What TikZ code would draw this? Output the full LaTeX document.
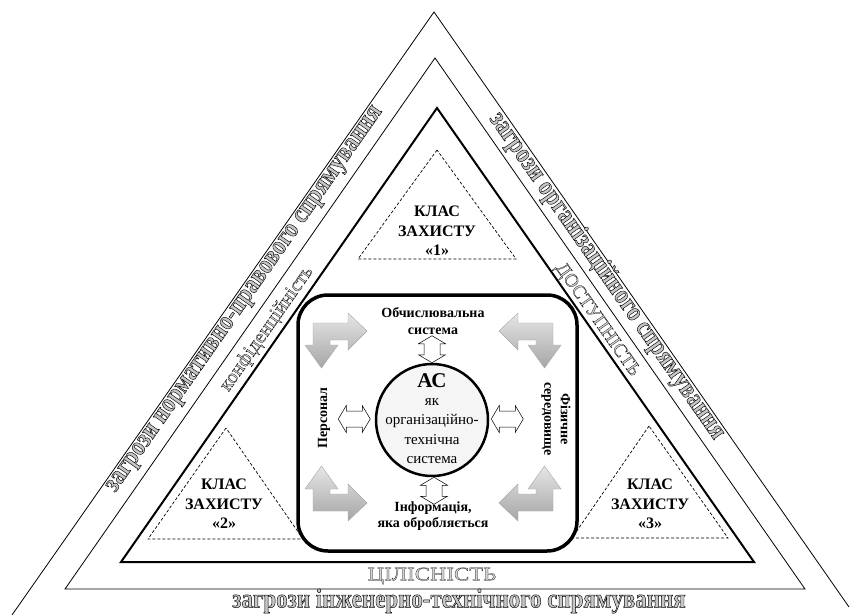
\documentclass[tikz,border=0pt]{standalone}
\usepackage{fontspec}
\setmainfont{Liberation Serif}
\newfontfamily\threatfont[FakeStretch=0.85,FakeBold=1.6]{Liberation Serif}
\newfontfamily\propfont[FakeBold=1.2]{Liberation Serif}
\newfontfamily\wideprop[FakeStretch=1.2,FakeBold=1.2]{Liberation Serif}
\newcommand\blackrim{\special{pdf:literal direct 0 G}}
\usetikzlibrary{calc}

\tikzset{turnarrow/.pic={
  \path[turn] (-120,-94) -- (-85,-94) -- (-85,-104) -- (-66,-86) -- (-85,-67)
    -- (-85,-77) -- (-103,-77) -- (-103,-72) -- (-95,-72) -- (-111.5,-49)
    -- (-128,-72) -- (-120,-72) -- cycle;
},
link/.pic={
  \path[linkbox] (0,-#1) -- (13.5,{-#1+8}) -- (8,{-#1+8}) -- (8,{#1-8}) -- (13.5,{#1-8})
    -- (0,#1) -- (-13.5,{#1-8}) -- (-8,{#1-8}) -- (-8,{-#1+8}) -- (-13.5,{-#1+8}) -- cycle;
}}

\begin{document}
\begin{tikzpicture}%
[x=1pt, y=-1pt,
band/.style={line width=0.8pt},
thickband/.style={line width=2pt},
classtri/.style={line width=0.7pt, dash pattern=on 3pt off 2pt},
classtxt/.style={font=\fontsize{16}{19.5}\selectfont\bfseries, align=center, inner sep=0pt},
threat/.style={font=\fontsize{27}{27}\threatfont\bfseries, text=gray!45, inner sep=0pt},
prop/.style={font=\fontsize{20}{20}\propfont, text=gray!35, inner sep=0pt},
part/.style={font=\fontsize{14}{16.5}\selectfont\bfseries, align=center, inner sep=0pt},
linkbox/.style={draw, fill=white, line width=0.5pt},
turn/.style={draw=gray!70, line width=0.4pt, top color=gray!20, bottom color=gray!70}]

\useasboundingbox (0,0) rectangle (850,615);

% three nested triangles
\draw[band] (12,615) -- (434,12) -- (849,607);
\draw[band] (435,58) -- (65,589) -- (805,589) -- cycle;
\draw[thickband] (437,108) -- (121,562) -- (754,562) -- cycle;

% threats
\node[threat, rotate=55] (law) at (246,300) {\blackrim загрози нормативно-правового спрямування};
\node[threat, rotate=-55] (org) at (607,276) {\blackrim загрози організаційного спрямування};
\node[threat] (tech) at (459,601) {\blackrim загрози інженерно-технічного спрямування};

% properties
\node[prop, rotate=55] (conf) at (267,329) {\blackrim конфіденційність};
\node[prop, font=\fontsize{19}{19}\propfont, rotate=-55] (avail) at (597,320) {\blackrim ДОСТУПНІСТЬ};
\node[prop, font=\fontsize{19}{19}\wideprop] (integ) at (432,576) {\blackrim ЦІЛІСНІСТЬ};

% classes of protection
\draw[classtri] (437,150) -- (358,259) -- (516,259) -- cycle;
\draw[classtri] (226,428) -- (148,539) -- (303,539) -- cycle;
\draw[classtri] (649,426) -- (572,538) -- (728,538) -- cycle;
\node[classtxt] (cls1) at (437,231) {КЛАС\\ЗАХИСТУ\\«1»};
\node[classtxt] (cls2) at (224,504) {КЛАС\\ЗАХИСТУ\\«2»};
\node[classtxt] (cls3) at (650,504) {КЛАС\\ЗАХИСТУ\\«3»};

% the system
\draw[line width=3.5pt, rounded corners=30pt] (298,295) rectangle (577,551);
\node[circle, draw, line width=2.5pt, fill=gray!8, minimum size=112pt, inner sep=0pt] (ac) at (432,420) {};
\node[font=\fontsize{21}{21}\selectfont\bfseries] (acname) at (432,381) {АС};
\node[font=\fontsize{15}{19.5}\selectfont, align=center, inner sep=0pt] (acdesc) at (432,431) {як\\організаційно-\\технічна\\система};

\node[part] (comp) at (433,321) {Обчислювальна\\система};
\node[part] (info) at (433,516) {Інформація,\\яка обробляється};
\node[part, rotate=90] (staff) at (324,418) {Персонал};
\node[part, rotate=-90] (env) at (556,419) {Фізичне\\середовище};

\pic at ($(ac.north)+(0,-13.5)$) {link=13.5};
\pic at ($(ac.south)+(2,13.5)$) {link=13.5};
\pic[rotate=90] at ($(ac.west)+(-20.5,-1)$) {link=16};
\pic[rotate=90] at ($(ac.east)+(18,-1)$) {link=16};

\pic at (433,417) {turnarrow};
\pic[xscale=-1] at (433,417) {turnarrow};
\pic[yscale=-1] at (433,417) {turnarrow};
\pic[xscale=-1, yscale=-1] at (433,417) {turnarrow};
\end{tikzpicture}
\end{document}
